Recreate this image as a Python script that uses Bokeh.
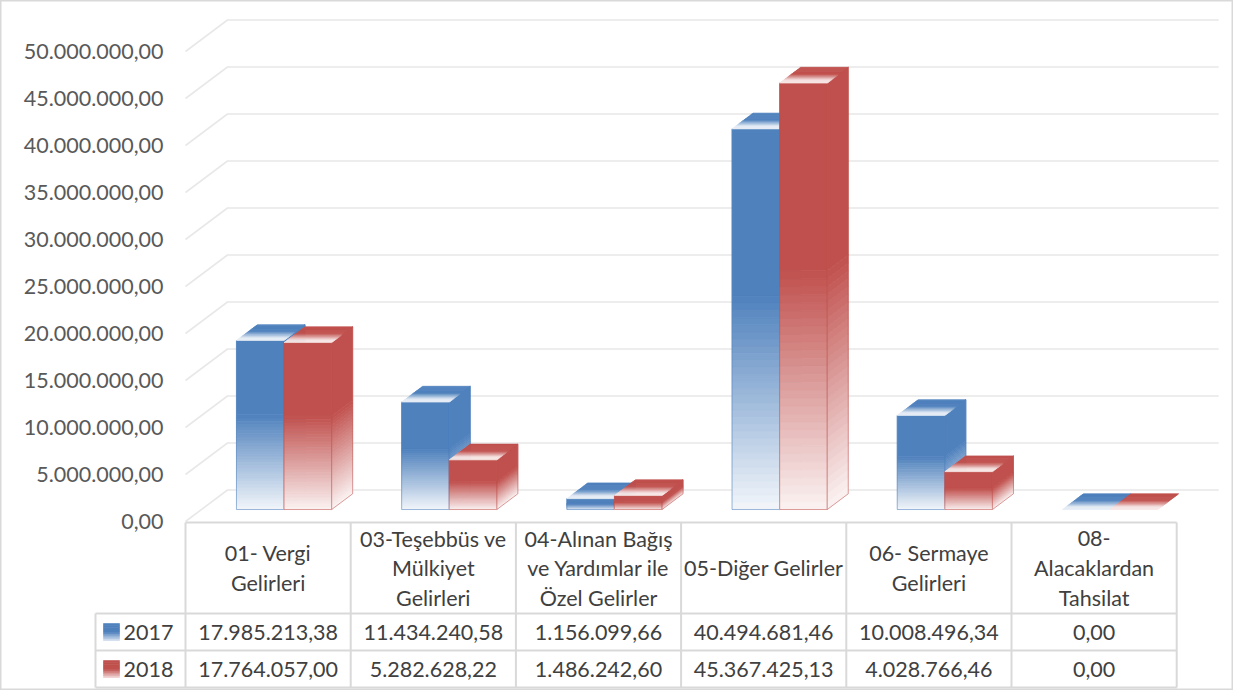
import numpy as np
from bokeh.plotting import figure
from bokeh.models import Range1d, ColumnDataSource
from bokeh.embed import file_html
from bokeh.resources import INLINE
from bokeh.core.properties import value

# ---------------- data ----------------
categories = ["01- Vergi\nGelirleri",
              "03-Teşebbüs ve\nMülkiyet\nGelirleri",
              "04-Alınan Bağış\nve Yardımlar ile\nÖzel Gelirler",
              "05-Diğer Gelirler",
              "06- Sermaye\nGelirleri",
              "08-\nAlacaklardan\nTahsilat"]
series_names = ["2017", "2018"]
values_2017 = [17985213.38, 11434240.58, 1156099.66, 40494681.46, 10008496.34, 0.00]
values_2018 = [17764057.00, 5282628.22, 1486242.60, 45367425.13, 4028766.46, 0.00]
y_ticks = [0, 5e6, 10e6, 15e6, 20e6, 25e6, 30e6, 35e6, 40e6, 45e6, 50e6]
series_values = [values_2017, values_2018]
series_colors = ["#4f81bd", "#c0504d"]

FONT = "Lato"
FS = "21.5px"


def tr_fmt(v):
    s = f"{v:,.2f}"
    return s.replace(",", "X").replace(".", ",").replace("X", ".")


def blend(hexc, w):
    r, g, b = int(hexc[1:3], 16), int(hexc[3:5], 16), int(hexc[5:7], 16)
    r = round(r + (255 - r) * w)
    g = round(g + (255 - g) * w)
    b = round(b + (255 - b) * w)
    return "#%02x%02x%02x" % (r, g, b)


# ---------------- layout (canvas pixel -> data helpers) ----------------
W, H = 1233, 690
PX0, PXU = 185.0, 165.2          # x of front-left floor corner, px per category
PY0, PYU = 521.0, 9.4e-6         # y of front zero line, px per value unit


def X(px):
    return (px - PX0) / PXU


def Y(py):
    return (PY0 - py) / PYU


DX = 42 / PXU          # full depth offset (x)
DY = 31.5 / PYU        # full depth offset (y)
F0, BD = 0.38, 0.5     # bar front depth fraction, bar depth fraction
GAP = 35 / PXU
BW = (1 - 2 * GAP) / 2
ncat = len(categories)

p = figure(width=W, height=H, output_backend="svg", toolbar_location=None,
           x_range=Range1d(X(0), X(W)), y_range=Range1d(Y(H), Y(0)),
           x_axis_location=None, y_axis_location=None, min_border=0)
p.grid.visible = False
p.outline_line_color = "#d9d9d9"
p.outline_line_width = 2
p.background_fill_color = "white"
p.border_fill_color = "white"

# ---------------- 3D walls / gridlines ----------------
p.multi_line(xs=[[0, DX, ncat + DX] for v in y_ticks],
             ys=[[v, v + DY, v + DY] for v in y_ticks],
             line_color="#e8e8e8", line_width=1.6)

# ---------------- bars ----------------
P = dict(xs=[], ys=[], fc=[], fa=[], lc=[], lw=[], la=[])


def add(xs, ys, fc, fa=1.0, lc=None, lw=0.7, la=1.0):
    P["xs"].append(list(xs)); P["ys"].append(list(ys))
    P["fc"].append(fc); P["fa"].append(fa)
    P["lc"].append(lc if lc else fc); P["lw"].append(lw); P["la"].append(la)


def wfront(u):
    # u: 0 bottom .. 1 top
    return 0.0 if u >= 0.56 else 0.93 * (1 - u / 0.56)


def wtop(s):
    # s: 0 back .. 1 front
    if s < 0.45:
        return 0.0
    return min(1.0, (s - 0.45) / 0.4) * 0.85


N, M = 30, 14
sx, sy = BD * DX, BD * DY
for i in range(ncat):
    for s in range(len(series_values)):
        v = series_values[s][i]
        col = series_colors[s]
        xl = i + GAP + s * BW + F0 * DX
        xr = xl + BW
        yb = F0 * DY
        yt = yb + v
        if v > 0:
            fade_top = yb + 0.56 * v
            # front face
            add([xl, xr, xr, xl], [fade_top, fade_top, yt, yt], col)
            for k in range(N):
                ya = yb + (fade_top - yb) * k / N
                yc = yb + (fade_top - yb) * (k + 1) / N
                c = blend(col, wfront((k + 0.5) / N * 0.56))
                add([xl, xr, xr, xl], [ya, ya, yc, yc], c)
            add([xl, xr, xr, xl], [yb, yb, yt, yt], col, fa=0.0, lc=col, lw=1.0, la=0.55)
            # side face
            add([xr, xr + sx, xr + sx, xr], [fade_top, fade_top + sy, yt + sy, yt], col)
            for k in range(N):
                ya = yb + (fade_top - yb) * k / N
                yc = yb + (fade_top - yb) * (k + 1) / N
                c = blend(col, wfront((k + 0.5) / N * 0.56))
                add([xr, xr + sx, xr + sx, xr], [ya, ya + sy, yc + sy, yc], c)
            add([xr, xr + sx, xr + sx, xr], [yb, yb + sy, yt + sy, yt], col,
                fa=0.0, lc=col, lw=1.0, la=0.55)
        # top face
        for k in range(M):
            s0, s1 = k / M, (k + 1) / M
            o0, o1 = 1 - s0, 1 - s1
            c = blend(col, wtop((k + 0.5) / M))
            add([xl + o0 * sx, xr + o0 * sx, xr + o1 * sx, xl + o1 * sx],
                [yt + o0 * sy, yt + o0 * sy, yt + o1 * sy, yt + o1 * sy], c)

src = ColumnDataSource(P)
p.patches(xs="xs", ys="ys", fill_color="fc", fill_alpha="fa", line_color="lc",
          line_width="lw", line_alpha="la", source=src)

# ---------------- data table ----------------
TL = "#d9d9d9"
y_top, y_hdr, y_r1, y_r2 = Y(522), Y(613), Y(650), Y(687)
xleft = X(95)
p.segment(x0=[0, xleft, xleft, xleft], x1=[ncat] * 4,
          y0=[y_top, y_hdr, y_r1, y_r2], y1=[y_top, y_hdr, y_r1, y_r2],
          line_color=TL, line_width=2)
p.segment(x0=list(range(ncat + 1)) + [xleft], x1=list(range(ncat + 1)) + [xleft],
          y0=[y_top] * (ncat + 1) + [y_hdr], y1=[y_r2] * (ncat + 2),
          line_color=TL, line_width=2)

# header texts
hx, hy, ht = [], [], []
for i, cat in enumerate(categories):
    lines = cat.split("\n")
    n = len(lines)
    for j, ln in enumerate(lines):
        hx.append(i + 0.5)
        hy.append(Y(567.5 + (j - (n - 1) / 2) * 29.5))
        ht.append(ln)
p.text(x=hx, y=hy, text=ht, text_align="center", text_baseline="middle",
       text_font=value(FONT), text_font_size=value(FS), text_color="#404040")

# values
row_y = [Y(631.5), Y(668.5)]
vx, vy, vt = [], [], []
for s, vals in enumerate(series_values):
    for i, v in enumerate(vals):
        vx.append(i + 0.5); vy.append(row_y[s]); vt.append(tr_fmt(v))
p.text(x=vx, y=vy, text=vt, text_align="center", text_baseline="middle",
       text_font=value(FONT), text_font_size=value(FS), text_color="#404040")

# legend keys + names
K = dict(xs=[], ys=[], fc=[])
for s, name in enumerate(series_names):
    ktop, kbot = row_y[s] + 8.5 / PYU, row_y[s] - 8.5 / PYU
    kx0, kx1 = X(103), X(119)
    nk = 8
    for k in range(nk):
        ya = kbot + (ktop - kbot) * k / nk
        yc = kbot + (ktop - kbot) * (k + 1) / nk
        u = (k + 0.5) / nk
        K["xs"].append([kx0, kx1, kx1, kx0]); K["ys"].append([ya, ya, yc, yc])
        K["fc"].append(blend(series_colors[s], 0.0 if u > 0.5 else 0.8 * (1 - u / 0.5)))
p.patches(xs="xs", ys="ys", fill_color="fc", line_color="fc", line_width=0.6,
          source=ColumnDataSource(K))
p.text(x=[X(123)] * 2, y=row_y, text=series_names, text_align="left",
       text_baseline="middle", text_font=value(FONT), text_font_size=value(FS),
       text_color="#404040")

# y tick labels
p.text(x=[X(163)] * len(y_ticks), y=y_ticks, text=[tr_fmt(v) for v in y_ticks],
       text_align="right", text_baseline="middle", text_font=value(FONT),
       text_font_size=value(FS), text_color="#595959")

open("out.html", "w").write(file_html(p, INLINE))
